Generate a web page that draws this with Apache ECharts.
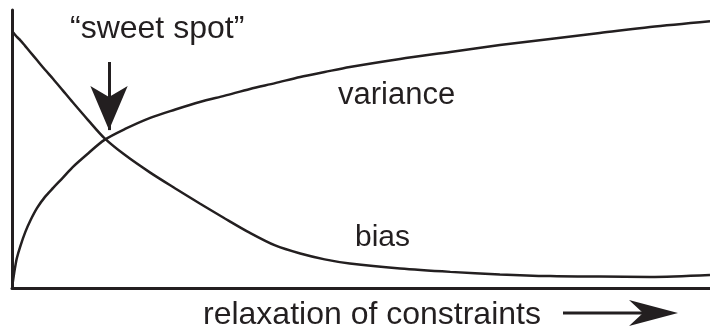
<!DOCTYPE html>
<html>
<head>
<meta charset="utf-8">
<script src="https://cdn.jsdelivr.net/npm/echarts@6/dist/echarts.min.js"></script>
<style>
  html, body { margin: 0; padding: 0; background: #fff; }
  #chart { width: 710px; height: 327px; }
</style>
</head>
<body>
<div id="chart"></div>
<script>
// relaxation of constraints, 0 (tight) .. 100 (loose)
var xValues = [0.1, 0.4, 0.7, 1.2, 1.9, 2.6, 3.6, 4.7, 5.9, 7.3, 8.7, 10.9, 13.2, 16.2, 19.8, 23.4,
    26.9, 30.5, 34.1, 37.7, 41.3, 44.8, 48.4, 55.6, 62.8, 69.9, 77.1, 84.2, 91.4, 100];
var biasValues = [92.1, 91.2, 90.3, 89.1, 87.0, 84.9, 81.9, 78.6, 75.2, 71.0, 66.8, 60.4, 54.0, 47.8, 41.5, 35.8,
    30.4, 25.0, 19.8, 15.3, 12.4, 10.3, 8.8, 7.0, 5.8, 4.9, 4.3, 4.1, 4.0, 4.7];
var varianceValues = [1.8, 6.8, 10.8, 15.1, 20.1, 24.1, 28.8, 32.7, 36.0, 39.7, 43.5, 48.4, 53.2, 57.2, 61.2, 64.2,
    66.9, 69.2, 71.6, 73.7, 75.9, 77.7, 79.5, 82.4, 84.9, 87.4, 89.6, 91.7, 93.9, 96.0];
// "sweet spot" pointer: x, from y, to y (arrow tip)
var sweetSpot = { x: 13.9, from: 81.3, to: 56.8 };

var ink = '#231f20';
var font = '"Liberation Sans", Arial, Helvetica, sans-serif';

function pairs(ys) {
    return xValues.map(function (x, i) { return [x, ys[i]]; });
}

var chart = echarts.init(document.getElementById('chart'));

var axisBase = {
    type: 'value',
    min: 0,
    max: 100,
    axisLine: { show: true, lineStyle: { color: ink, width: 3 } },
    axisTick: { show: false },
    axisLabel: { show: false },
    splitLine: { show: false }
};

chart.setOption({
    animation: false,
    backgroundColor: '#fff',
    grid: { left: 12, right: 0, top: 10, bottom: 39 },
    xAxis: axisBase,
    yAxis: axisBase,
    series: [
        {
            name: 'bias',
            type: 'line',
            data: pairs(biasValues),
            showSymbol: false,
            smooth: 0.3,
            lineStyle: { color: ink, width: 2.5 },
            markLine: {
                silent: true,
                symbol: ['none', 'arrow'],
                symbolSize: [28, 44],
                label: { show: false },
                lineStyle: { color: ink, width: 3, type: 'solid' },
                itemStyle: { color: ink },
                data: [[
                    { coord: [sweetSpot.x, sweetSpot.from] },
                    { coord: [sweetSpot.x, sweetSpot.to] }
                ]]
            }
        },
        {
            name: 'variance',
            type: 'line',
            data: pairs(varianceValues),
            showSymbol: false,
            smooth: 0.3,
            lineStyle: { color: ink, width: 2.5 }
        }
    ],
    graphic: [
        { type: 'text', left: 70, top: 13, style: { text: '\u201csweet spot\u201d', font: '32px ' + font, fill: ink } },
        { type: 'text', left: 338, top: 80, style: { text: 'variance', font: '31px ' + font, fill: ink } },
        { type: 'text', left: 355, top: 223, style: { text: 'bias', font: '30px ' + font, fill: ink } },
        { type: 'text', left: 203, top: 299, style: { text: 'relaxation of constraints', font: '32px ' + font, fill: ink } },
        { type: 'line', shape: { x1: 563, y1: 313, x2: 645, y2: 313 }, style: { stroke: ink, lineWidth: 3 } },
        { type: 'polygon', shape: { points: [[678, 313], [629, 300], [643, 313], [629, 326]] }, style: { fill: ink } }
    ]
});
</script>
</body>
</html>
